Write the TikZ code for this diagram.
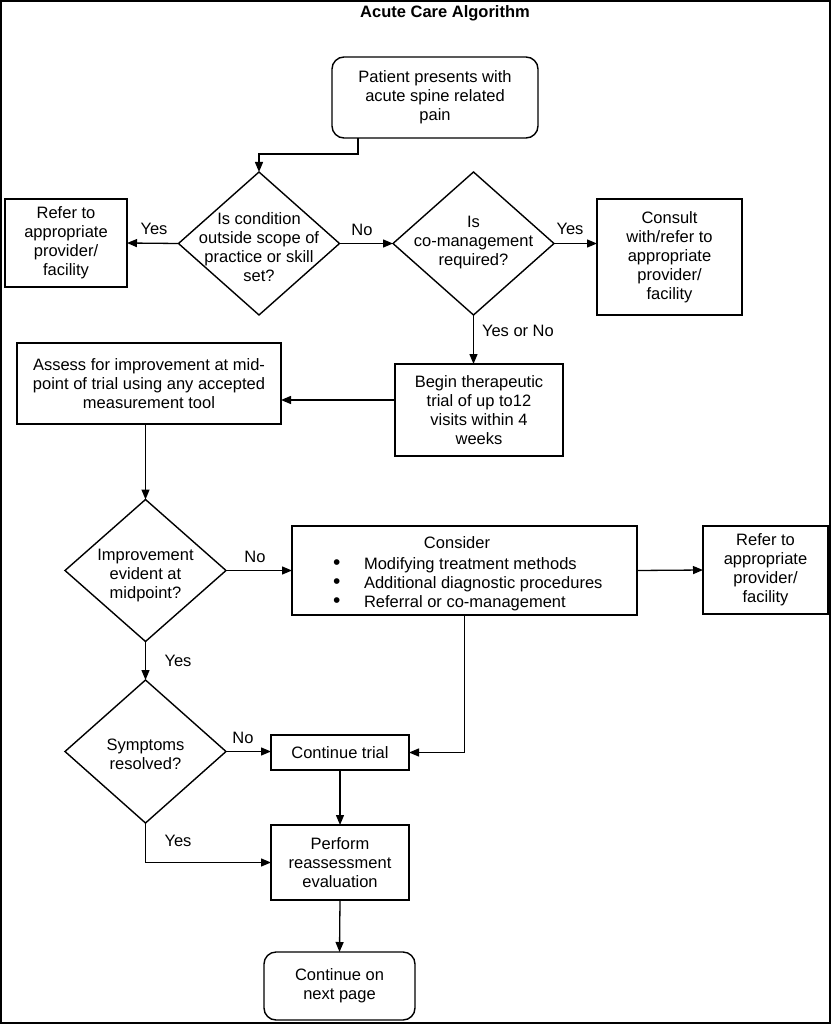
\documentclass[tikz,border=0pt]{standalone}
\usepackage{fontspec}
\setmainfont{Liberation Sans}
\usetikzlibrary{shapes.geometric,arrows.meta,calc}
\newcommand{\bigbul}{\makebox[32pt][l]{\hspace{1pt}\raisebox{-0.5pt}{\fontsize{21}{19}\selectfont\textbullet}}}
\begin{document}
\begin{tikzpicture}[x=1pt,y=-1pt,
  every node/.style={font=\fontsize{16.5}{19}\selectfont, inner sep=0pt, outer sep=0pt},
  box/.style={draw, line width=1.4pt, rectangle, align=center},
  rbox/.style={draw, line width=1.4pt, rectangle, rounded corners=12pt, align=center},
  dia/.style={draw, line width=1.4pt, diamond},
  txt/.style={align=center},
  lbl/.style={},
  arr/.style={line width=1.3pt, -{Triangle[length=10pt,width=8pt]}},
  ln/.style={line width=1.3pt}
]
\useasboundingbox (0,0) rectangle (831,1024);
\draw[line width=1.6pt] (0.8,0.8) rectangle (830.2,1023.2);

\node[font=\fontsize{16.5}{19}\selectfont\bfseries] (title) at (445,13) {Acute Care Algorithm};

\node[rbox, minimum width=206pt, minimum height=81pt] (start) at (435,97.5)
  {Patient presents with\\acute spine related\\pain};

\node[dia, minimum width=161pt, minimum height=143pt] (d1) at (259,243.5) {};
\node[txt] (d1t) at (259,247) {Is condition\\outside scope of\\practice or skill\\set?};

\node[box, minimum width=122pt, minimum height=88pt] (ref1) at (66,243)
  {Refer to\\appropriate\\provider/\\facility};

\node[dia, minimum width=161pt, minimum height=143pt] (d2) at (473.5,243.5) {};
\node[txt] (d2t) at (473.5,243) {Is\\co-management\\required?};

\node[box, minimum width=145pt, minimum height=116pt] (cons) at (669.5,257)
  {Consult\\with/refer to\\appropriate\\provider/\\facility};

\node[box, minimum width=168pt, minimum height=92pt] (begin) at (479,410)
  {Begin therapeutic\\trial of up to12\\visits within 4\\weeks};

\node[box, minimum width=264pt, minimum height=81pt] (assess) at (149,383.5)
  {Assess for improvement at mid-\\point of trial using any accepted\\measurement tool};

\node[dia, minimum width=161pt, minimum height=142pt] (d3) at (145.5,570.5) {};
\node[txt] (d3t) at (145.5,576) {Improvement\\evident at\\midpoint?};

\node[box, minimum width=345pt, minimum height=89pt] (consider) at (464.5,570.5) {};
\node[txt] (ct) at (457,543) {Consider};
\node[align=left, anchor=west] (cl) at (332,584)
  {\bigbul Modifying treatment methods\\
   \bigbul Additional diagnostic procedures\\
   \bigbul Referral or co-management};

\node[box, minimum width=125pt, minimum height=88pt] (ref2) at (765.5,570)
  {Refer to\\appropriate\\provider/\\facility};

\node[dia, minimum width=161pt, minimum height=143pt] (d4) at (145.5,751.5) {};
\node[txt] (d4t) at (145.5,754) {Symptoms\\resolved?};

\node[box, minimum width=138pt, minimum height=35pt] (cont) at (340,752.5) {Continue trial};

\node[box, minimum width=138pt, minimum height=75pt] (perform) at (340,862.5)
  {Perform\\reassessment\\evaluation};

\node[rbox, minimum width=151pt, minimum height=68pt] (endn) at (339.5,986)
  {Continue on\\next page};

% connectors
\draw[arr] (start.south west) ++(26,0) -- ++(0,16) -| (d1.north);
\draw[arr] (d1.west) -- (ref1.east);
\node[lbl] (l1) at (154,229) {Yes};
\draw[arr] (d1.east) -- (d2.west);
\node[lbl] (l2) at (362,230) {No};
\draw[arr] (d2.east) -- (d2.east -| cons.west);
\node[lbl] (l3) at (570,229) {Yes};
\draw[arr] (d2.south) -- (d2.south |- begin.north);
\node[lbl, anchor=west] (l4) at (482,331) {Yes or No};
\draw[arr] ([yshift=10pt]begin.west) -- ([yshift=10pt]begin.west -| assess.east);
\draw[arr] (assess.south -| d3.north) -- (d3.north);
\draw[arr] (d3.east) -- (consider.west);
\node[lbl] (l5) at (255,557) {No};
\draw[arr] (consider.east) -- (ref2.west);
\draw[arr] (consider.south) |- (cont.east);
\draw[arr] (d3.south) -- (d4.north);
\node[lbl] (l6) at (178,661) {Yes};
\draw[arr] (d4.east) -- (d4.east -| cont.west);
\node[lbl] (l7) at (243,738) {No};
\draw[arr] (cont.south) -- (perform.north);
\draw[arr] (d4.south) |- (perform.west);
\node[lbl] (l8) at (178,841) {Yes};
\draw[arr] (perform.south) -- (endn.north);
\end{tikzpicture}
\end{document}
